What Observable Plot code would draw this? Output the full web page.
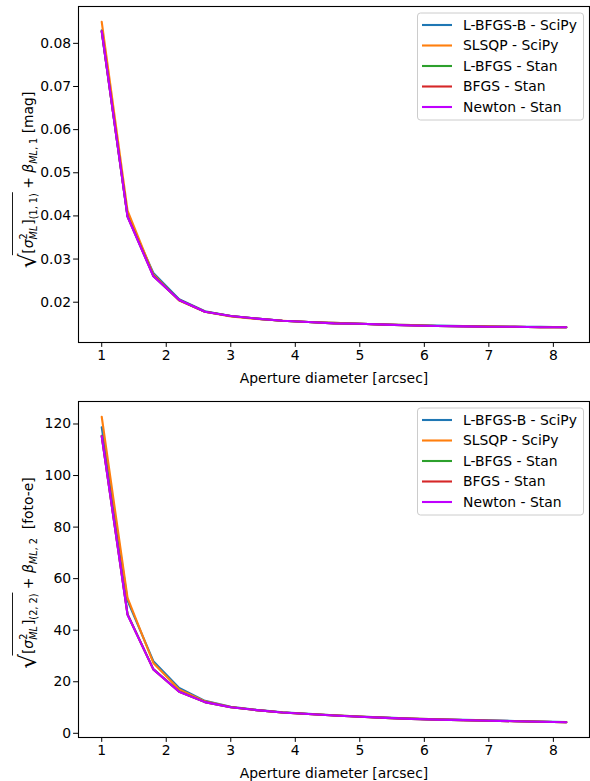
<!DOCTYPE html>
<html><head><meta charset="utf-8">
<script src="https://cdn.jsdelivr.net/npm/d3@7"></script>
<script src="https://cdn.jsdelivr.net/npm/@observablehq/plot@0.6"></script>
<style>body{margin:0;background:#fff;} #chart{width:590px;} svg{display:block;}</style>
</head><body><div id="chart"></div>
<script>
const apertures = [1.0,1.4,1.8,2.2,2.6,3.0,3.4,3.8,4.2,4.6,5.0,5.4,5.8,6.2,6.6,7.0,7.4,7.8,8.2];
const seriesNames = ["L-BFGS-B - SciPy","SLSQP - SciPy","L-BFGS - Stan","BFGS - Stan","Newton - Stan"];
const seriesColors = ["#1f77b4","#ff7f0e","#2ca02c","#d62728","#bf00ff"];
const xTicks = [1,2,3,4,5,6,7,8];

// panel 1: magnitude [mag]
const mag_LBFGSB_SciPy = [0.0830,0.0400,0.0268,0.0207,0.0179,0.0168,0.0162,0.0157,0.0154,0.0152,0.0150,0.0148,0.0147,0.0146,0.0145,0.0144,0.0143,0.0143,0.0142];
const mag_SLSQP_SciPy  = [0.0850,0.0412,0.0264,0.0204,0.0178,0.0167,0.0161,0.0157,0.0154,0.0152,0.0150,0.0148,0.0147,0.0145,0.0145,0.0144,0.0143,0.0142,0.0142];
const mag_LBFGS_Stan   = [0.0828,0.0399,0.0261,0.0205,0.0178,0.0168,0.0162,0.0157,0.0154,0.0151,0.0150,0.0148,0.0146,0.0145,0.0144,0.0143,0.0143,0.0142,0.0142];
const mag_BFGS_Stan    = [0.0828,0.0399,0.0261,0.0205,0.0178,0.0168,0.0162,0.0157,0.0154,0.0151,0.0150,0.0148,0.0146,0.0145,0.0144,0.0143,0.0143,0.0142,0.0142];
const mag_Newton_Stan  = [0.0828,0.0398,0.0260,0.0205,0.0178,0.0168,0.0162,0.0157,0.0154,0.0151,0.0150,0.0148,0.0146,0.0145,0.0144,0.0143,0.0143,0.0142,0.0142];
const magTicks = [0.02,0.03,0.04,0.05,0.06,0.07,0.08];

// panel 2: flux [foto-e]
const flux_LBFGSB_SciPy = [118.7,51.5,28.0,17.6,12.6,10.3,9.1,8.2,7.6,7.0,6.5,6.1,5.7,5.4,5.2,5.0,4.8,4.6,4.4];
const flux_SLSQP_SciPy  = [122.8,52.5,27.3,17.0,12.4,10.2,9.0,8.1,7.5,7.0,6.5,6.0,5.7,5.4,5.1,4.9,4.7,4.5,4.3];
const flux_LBFGS_Stan   = [115.4,46.2,24.9,16.2,12.1,10.1,9.0,8.1,7.5,6.9,6.4,6.0,5.6,5.3,5.1,4.9,4.7,4.5,4.3];
const flux_BFGS_Stan    = [115.3,46.1,24.8,16.1,12.1,10.1,9.0,8.1,7.5,6.9,6.4,6.0,5.6,5.3,5.1,4.9,4.7,4.5,4.3];
const flux_Newton_Stan  = [115.2,46.0,24.8,16.1,12.1,10.1,9.0,8.1,7.5,6.9,6.4,6.0,5.6,5.3,5.1,4.9,4.7,4.5,4.3];
const fluxTicks = [0,20,40,60,80,100,120];

const xLabel = "Aperture diameter [arcsec]";
const FS = 13.9, SFS = 9.7;

function toRows(seriesList) {
  const rows = [];
  seriesList.forEach((vals, i) => vals.forEach((v, j) => rows.push({x: apertures[j], y: v, s: seriesNames[i]})));
  return rows;
}

function padDomain(vals) {
  const lo = d3.min(vals), hi = d3.max(vals), p = (hi - lo) * 0.05;
  return [lo - p, hi + p];
}

function makePanel({series, yTicks, yFormat, height, mt, mb}) {
  const rows = toRows(series);
  return Plot.plot({
    width: 590, height,
    marginLeft: 78, marginRight: 1, marginTop: mt, marginBottom: mb,
    style: {fontFamily: "DejaVu Sans", fontSize: FS + "px", color: "black", background: "white"},
    x: {domain: padDomain(apertures)},
    y: {domain: padDomain(rows.map(d => d.y))},
    color: {domain: seriesNames, range: seriesColors},
    marks: [
      Plot.line(rows, {x: "x", y: "y", z: "s", stroke: "s", strokeWidth: 2.1, strokeLinejoin: "round"}),
      Plot.axisX({ticks: xTicks, tickSize: 4.9, tickPadding: 3, label: null, fontSize: FS}),
      Plot.axisY({ticks: yTicks, tickSize: 4.9, tickPadding: 2.5, tickFormat: yFormat, label: null, fontSize: FS}),
      Plot.text([xLabel], {frameAnchor: "bottom", dy: 36, lineAnchor: "middle", fontSize: FS}),
      Plot.frame({stroke: "black", strokeWidth: 1.1})
    ]
  });
}

function addLegend(svg, right, top) {
  const W = 166, H = 107;
  const g = d3.select(svg).append("g").attr("transform", `translate(${right - W},${top})`)
    .attr("text-anchor", "start");
  g.append("rect").attr("x", 0.5).attr("y", 0.5).attr("width", W).attr("height", H).attr("rx", 3)
    .attr("fill", "white").attr("fill-opacity", 0.8).attr("stroke", "#cccccc");
  seriesNames.forEach((n, i) => {
    const y = 12.5 + i * 20.5;
    g.append("line").attr("x1", 5).attr("x2", 35).attr("y1", y).attr("y2", y)
      .attr("stroke", seriesColors[i]).attr("stroke-width", 2.1);
    g.append("text").attr("x", 46).attr("y", y).attr("dy", "0.35em")
      .attr("font-size", FS).attr("font-family", "DejaVu Sans").attr("fill", "black").text(n);
  });
}

function addYLabel(svg, bx, cy, idx, bsub, unit) {
  const g = d3.select(svg).append("g").attr("transform", `translate(${bx},${cy}) rotate(-90)`)
    .attr("font-family", "DejaVu Sans").attr("fill", "black").attr("text-anchor", "start");
  const inner = g.append("g");
  let x = 0;
  function put(t, o = {}) {
    const size = o.size || FS;
    const el = inner.append("text").attr("x", x).attr("y", o.dy || 0).attr("font-size", size)
      .attr("text-anchor", "start")
      .attr("font-style", o.italic ? "italic" : null).style("white-space", "pre").text(t);
    const w = el.node().getComputedTextLength();
    if (o.advance !== false) x += w;
    return w;
  }
  put("\u221A", {size: 23, dy: 3});
  const r0 = x - 1.5;
  put("[");
  put("\u03C3", {italic: true});
  const w1 = put("2", {size: SFS, dy: -6.5, advance: false});
  const w2 = put("ML", {size: SFS, dy: 3.5, italic: true, advance: false});
  x += Math.max(w1, w2) + 1;
  put("]");
  put(idx, {size: SFS, dy: 4});
  const r1 = x + 1;
  inner.append("line").attr("x1", r0).attr("x2", r1).attr("y1", -20.5).attr("y2", -20.5)
    .attr("stroke", "black").attr("stroke-width", 0.9);
  put(" + ");
  put("\u03B2", {italic: true});
  put("ML", {size: SFS, dy: 3.5, italic: true});
  put(bsub, {size: SFS, dy: 3.5});
  put(unit);
  inner.attr("transform", `translate(${-x / 2},0)`);
}

const chart = document.getElementById("chart");

const p1 = makePanel({
  series: [mag_LBFGSB_SciPy, mag_SLSQP_SciPy, mag_LBFGS_Stan, mag_BFGS_Stan, mag_Newton_Stan],
  yTicks: magTicks, yFormat: d => d.toFixed(2), height: 390, mt: 6, mb: 48
});
chart.appendChild(p1);
addLegend(p1, 583, 12.5);
addYLabel(p1, 33, 180, "(1, 1)", ", 1", " [mag]");

const p2 = makePanel({
  series: [flux_LBFGSB_SciPy, flux_SLSQP_SciPy, flux_LBFGS_Stan, flux_BFGS_Stan, flux_Newton_Stan],
  yTicks: fluxTicks, yFormat: d => String(d), height: 391, mt: 11, mb: 44
});
chart.appendChild(p2);
addLegend(p2, 583, 17.5);
addYLabel(p2, 33, 183, "(2, 2)", ", 2", "  [foto-e]");
</script>
</body></html>
